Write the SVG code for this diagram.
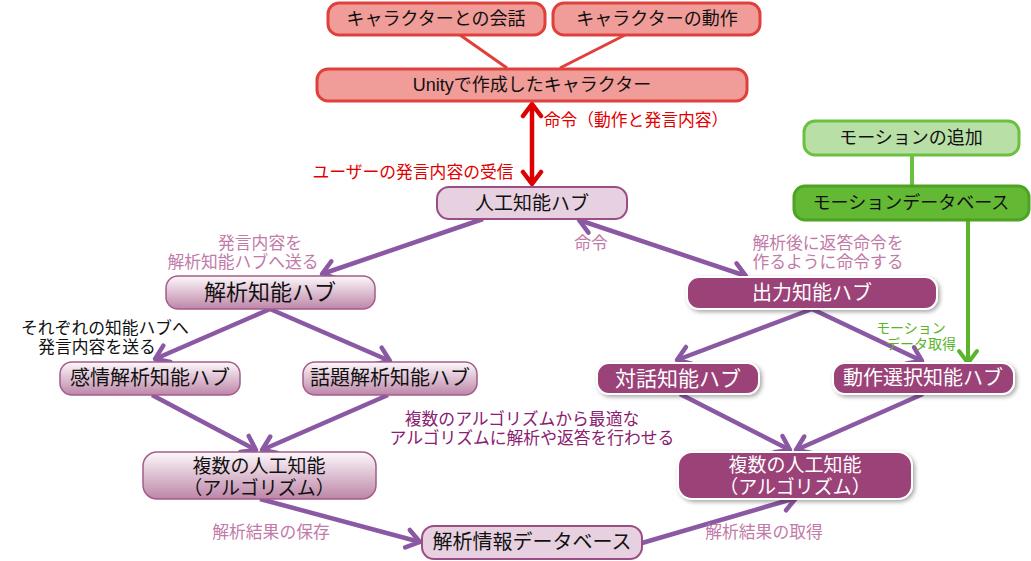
<svg xmlns="http://www.w3.org/2000/svg" width="1031" height="561" viewBox="0 0 1031 561">
<defs>
<style>
text{font-family:"Liberation Sans","Noto Sans CJK JP",sans-serif;dominant-baseline:central;text-anchor:middle}
.red rect{fill:#f09c98;stroke:#e0403c;stroke-width:3}
.red text{font-size:18px;fill:#111}
.lp rect{fill:#e7d0df;stroke:#9b4d85;stroke-width:2}
.gp rect{fill:url(#gp);stroke:#a35c8c;stroke-width:1.5}
.dp rect{fill:#9b4379;stroke:#fff;stroke-width:2;filter:url(#sh)}
.dp text{fill:#fff}
.lp text,.gp text{fill:#111}
.g1 rect{fill:#b8e0a6;stroke:#6cc040;stroke-width:3}
.g2 rect{fill:#64b934;stroke:#4ca422;stroke-width:3}
.g1 text,.g2 text{fill:#111;font-size:18px}
.pl{stroke:#8b59a3;stroke-width:4.5;fill:none}
.rl{stroke:#e0403c;stroke-width:3;fill:none}
.lbl{font-size:16.8px}
.pink{fill:#c27aa8}
.redt{fill:#e00000}
.dark{fill:#8a2070}
.grn{fill:#5ab52a;font-size:14px}
.blk{fill:#111}
</style>
<linearGradient id="gp" x1="0" y1="0" x2="0" y2="1">
<stop offset="0" stop-color="#fdf8fb"/>
<stop offset="1" stop-color="#bd86a8"/>
</linearGradient>
<filter id="sh" x="-10%" y="-20%" width="120%" height="150%">
<feDropShadow dx="2" dy="2" stdDeviation="2" flood-color="#000" flood-opacity="0.35"/>
</filter>
<marker id="ap" markerUnits="userSpaceOnUse" markerWidth="24" markerHeight="24" viewBox="0 0 24 24" refX="19" refY="12" orient="auto-start-reverse">
<path d="M6,3 L19,12 L6,21" fill="none" stroke="#8b59a3" stroke-width="4.5" stroke-linecap="round" stroke-linejoin="round"/>
</marker>
<marker id="ar" markerUnits="userSpaceOnUse" markerWidth="24" markerHeight="24" viewBox="0 0 24 24" refX="19" refY="12" orient="auto-start-reverse">
<path d="M7,3 L19,12 L7,21" fill="none" stroke="#dd0000" stroke-width="4.5" stroke-linecap="round" stroke-linejoin="round"/>
</marker>
<marker id="ag" markerUnits="userSpaceOnUse" markerWidth="24" markerHeight="24" viewBox="0 0 24 24" refX="19" refY="12" orient="auto-start-reverse">
<path d="M7,3 L19,12 L7,21" fill="none" stroke="#5ab52a" stroke-width="4" stroke-linecap="round" stroke-linejoin="round"/>
</marker>
</defs>

<g id="connectors">
<line class="rl" x1="460" y1="35" x2="507" y2="68"/>
<line class="rl" x1="625" y1="35" x2="560" y2="68"/>
<line x1="532" y1="104" x2="532" y2="184" stroke="#dd0000" stroke-width="4.5" marker-start="url(#ar)" marker-end="url(#ar)"/>
<line x1="912" y1="155" x2="912" y2="185" stroke="#6cc040" stroke-width="4"/>
<line x1="968" y1="220" x2="968" y2="363" stroke="#5ab52a" stroke-width="4" marker-end="url(#ag)"/>
<line class="pl" x1="483" y1="219" x2="322" y2="274" marker-end="url(#ap)"/>
<line class="pl" x1="579" y1="220" x2="746" y2="276" marker-start="url(#ap)" marker-end="url(#ap)"/>
<line class="pl" x1="270" y1="309" x2="155" y2="359" marker-end="url(#ap)"/>
<line class="pl" x1="270" y1="309" x2="390" y2="361" marker-end="url(#ap)"/>
<line class="pl" x1="152" y1="395" x2="256" y2="450" marker-end="url(#ap)"/>
<line class="pl" x1="388" y1="395" x2="262" y2="450" marker-end="url(#ap)"/>
<line class="pl" x1="260" y1="499" x2="420" y2="542" marker-end="url(#ap)"/>
<line class="pl" x1="642" y1="543" x2="796" y2="498" marker-end="url(#ap)"/>
<line class="pl" x1="812" y1="309" x2="677" y2="360" marker-end="url(#ap)"/>
<line class="pl" x1="812" y1="309" x2="922" y2="361" marker-end="url(#ap)"/>
<line class="pl" x1="680" y1="394" x2="790" y2="450" marker-end="url(#ap)"/>
<line class="pl" x1="923" y1="394" x2="796" y2="450" marker-end="url(#ap)"/>
</g>

<g id="labels">
<text class="lbl redt" x="636" y="120">命令（動作と発言内容）</text>
<text class="lbl redt" x="413" y="172">ユーザーの発言内容の受信</text>
<text class="lbl pink" x="260" y="243">発言内容を</text>
<text class="lbl pink" x="243" y="262">解析知能ハブへ送る</text>
<text class="lbl pink" x="591" y="243">命令</text>
<text class="lbl pink" x="828" y="243">解析後に返答命令を</text>
<text class="lbl pink" x="828" y="262">作るように命令する</text>
<text class="lbl blk" x="105" y="328">それぞれの知能ハブへ</text>
<text class="lbl blk" x="97" y="347">発言内容を送る</text>
<text class="grn" x="911" y="328">モーション</text>
<text class="grn" x="921" y="344">データ取得</text>
<text class="lbl dark" x="522" y="419">複数のアルゴリズムから最適な</text>
<text class="lbl dark" x="532" y="438">アルゴリズムに解析や返答を行わせる</text>
<text class="lbl pink" x="271" y="532">解析結果の保存</text>
<text class="lbl pink" x="764" y="532">解析結果の取得</text>
</g>

<g id="n-kaiwa" class="red"><rect x="328" y="3" width="217" height="32" rx="11"/><text x="436" y="19">キャラクターとの会話</text></g>
<g id="n-dousa" class="red"><rect x="553" y="3" width="207" height="32" rx="11"/><text x="657" y="19">キャラクターの動作</text></g>
<g id="n-unity" class="red"><rect x="317" y="69" width="430" height="32" rx="11"/><text x="532" y="85">Unityで作成したキャラクター</text></g>
<g id="n-jinkou" class="lp"><rect x="437" y="187" width="190" height="32" rx="12"/><text x="532" y="203" font-size="19">人工知能ハブ</text></g>
<g id="n-motion-add" class="g1"><rect x="804" y="121" width="215" height="34" rx="11"/><text x="911" y="138">モーションの追加</text></g>
<g id="n-motion-db" class="g2"><rect x="794" y="186" width="235" height="34" rx="11"/><text x="911" y="203" font-size="19">モーションデータベース</text></g>
<g id="n-kaiseki" class="gp"><rect x="166" y="276" width="209" height="33" rx="12"/><text x="270" y="292" font-size="22">解析知能ハブ</text></g>
<g id="n-kanjou" class="gp"><rect x="60" y="362" width="180" height="33" rx="12"/><text x="150" y="378" font-size="20">感情解析知能ハブ</text></g>
<g id="n-wadai" class="gp"><rect x="303" y="362" width="174" height="33" rx="12"/><text x="390" y="378" font-size="20">話題解析知能ハブ</text></g>
<g id="n-ai-left" class="gp"><rect x="143" y="452" width="233" height="47" rx="14"/><text x="259" y="466" font-size="19">複数の人工知能</text><text x="259" y="488" font-size="19">（アルゴリズム）</text></g>
<g id="n-db" class="lp"><rect x="422" y="526" width="220" height="33" rx="12"/><text x="532" y="542" font-size="20">解析情報データベース</text></g>
<g id="n-shutsuryoku" class="dp"><rect x="687" y="277" width="250" height="32" rx="12"/><text x="812" y="293" font-size="20">出力知能ハブ</text></g>
<g id="n-taiwa" class="dp"><rect x="597" y="363" width="162" height="31" rx="12"/><text x="678" y="378" font-size="21">対話知能ハブ</text></g>
<g id="n-dousasentaku" class="dp"><rect x="833" y="363" width="181" height="31" rx="12"/><text x="923" y="378" font-size="20">動作選択知能ハブ</text></g>
<g id="n-ai-right" class="dp"><rect x="678" y="452" width="234" height="47" rx="14"/><text x="795" y="465" font-size="19">複数の人工知能</text><text x="795" y="487" font-size="19">（アルゴリズム）</text></g>
</svg>
